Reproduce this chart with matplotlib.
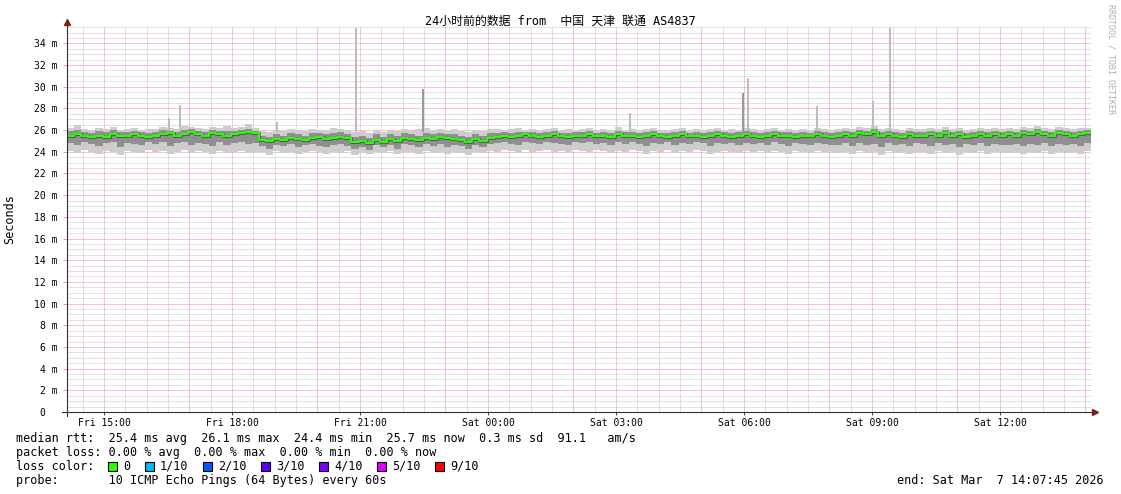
import numpy as np
import matplotlib.pyplot as plt
from matplotlib.patches import Rectangle
from matplotlib.lines import Line2D

W, H = 1121, 494
mono = 'DejaVu Sans Mono'

# hours since Fri 00:00, one value per 10 min over 24 h
t_start = 14 + 7.75 / 60
step_h = 10 / 60

med = [25.5, 25.6, 25.5, 25.4, 25.5, 25.4, 25.6, 25.5, 25.5, 25.6, 25.5, 25.4,
       25.5, 25.6, 25.7, 25.5, 25.6, 25.8, 25.6, 25.5, 25.7, 25.6, 25.5, 25.6,
       25.7, 25.8, 25.7, 25.1, 25.0, 25.2, 25.1, 25.3, 25.2, 25.1, 25.3, 25.4,
       25.2, 25.3, 25.4, 25.3, 24.9, 25.0, 24.8, 25.1, 24.9, 25.2, 25.0, 25.3,
       25.2, 25.1, 25.3, 25.2, 25.4, 25.3, 25.2, 25.1, 24.9, 25.2, 25.0, 25.3,
       25.4, 25.5, 25.4, 25.5, 25.6, 25.5, 25.4, 25.5, 25.6, 25.5, 25.4, 25.5,
       25.5, 25.6, 25.5, 25.5, 25.4, 25.6, 25.5, 25.5, 25.4, 25.5, 25.6, 25.5,
       25.4, 25.5, 25.6, 25.5, 25.5, 25.4, 25.5, 25.6, 25.5, 25.4, 25.5, 25.6,
       25.5, 25.4, 25.5, 25.6, 25.5, 25.5, 25.4, 25.5, 25.5, 25.6, 25.5, 25.4,
       25.5, 25.6, 25.5, 25.7, 25.6, 25.8, 25.5, 25.6, 25.5, 25.4, 25.6, 25.5,
       25.5, 25.6, 25.5, 25.7, 25.5, 25.6, 25.4, 25.5, 25.6, 25.5, 25.6, 25.5,
       25.6, 25.5, 25.7, 25.6, 25.8, 25.6, 25.5, 25.7, 25.6, 25.5, 25.6, 25.7]

hi = [26.2, 26.5, 26.1, 26.0, 26.2, 26.1, 26.3, 26.0, 26.1, 26.2, 26.0, 26.1,
      26.1, 26.3, 26.2, 26.1, 26.4, 26.3, 26.2, 26.1, 26.3, 26.2, 26.4, 26.2,
      26.3, 26.6, 26.2, 25.9, 25.8, 26.0, 25.9, 26.1, 26.0, 25.9, 26.1, 26.0,
      26.0, 26.2, 26.1, 26.0, 25.8, 25.9, 25.7, 26.0, 25.8, 26.0, 25.9, 26.1,
      26.0, 26.1, 26.2, 26.0, 26.1, 26.0, 26.1, 25.9, 25.8, 26.0, 25.9, 26.1,
      26.1, 26.0, 26.1, 26.2, 26.0, 26.1, 26.0, 26.1, 26.2, 26.0, 26.1, 26.0,
      26.1, 26.2, 26.0, 26.1, 26.0, 26.3, 26.0, 26.1, 26.0, 26.1, 26.2, 26.0,
      26.0, 26.1, 26.2, 26.0, 26.1, 26.0, 26.1, 26.2, 26.0, 26.1, 26.0, 26.2,
      26.1, 26.0, 26.1, 26.2, 26.0, 26.1, 26.0, 26.1, 26.0, 26.2, 26.1, 26.0,
      26.1, 26.2, 26.1, 26.3, 26.2, 26.4, 26.1, 26.2, 26.1, 26.0, 26.2, 26.1,
      26.1, 26.2, 26.1, 26.3, 26.1, 26.2, 26.0, 26.1, 26.2, 26.1, 26.2, 26.1,
      26.2, 26.1, 26.3, 26.2, 26.4, 26.2, 26.1, 26.3, 26.2, 26.1, 26.2, 26.2]

lo = [24.1, 23.9, 24.2, 24.0, 23.8, 24.1, 24.0, 23.7, 24.1, 24.0, 23.9, 24.2,
      24.0, 24.1, 23.8, 24.0, 24.2, 23.9, 24.1, 24.0, 23.8, 24.1, 23.9, 24.0,
      24.1, 23.9, 24.0, 24.0, 23.7, 24.1, 23.9, 24.0, 23.8, 24.0, 24.1, 23.9,
      23.8, 24.0, 23.9, 24.1, 23.7, 23.9, 23.8, 24.0, 23.9, 24.1, 23.8, 24.0,
      24.0, 23.8, 24.1, 23.9, 24.0, 23.8, 24.0, 23.9, 23.7, 24.0, 23.9, 24.1,
      24.0, 24.2, 24.1, 23.9, 24.2, 24.0, 24.1, 24.2, 24.0, 24.1, 23.9, 24.2,
      24.1, 24.0, 24.2, 24.1, 23.9, 24.1, 24.0, 24.2, 24.1, 23.8, 24.1, 24.0,
      24.2, 23.9, 24.1, 24.0, 24.2, 24.1, 23.8, 24.0, 24.1, 24.0, 23.9, 24.1,
      24.0, 24.1, 23.9, 24.1, 24.0, 23.8, 24.1, 24.0, 23.9, 24.1, 24.0, 23.9,
      23.9, 24.0, 23.8, 24.1, 23.9, 24.0, 23.7, 24.1, 23.9, 24.0, 23.8, 24.0,
      24.0, 23.8, 24.1, 23.9, 24.0, 23.7, 24.0, 23.9, 24.1, 23.8, 24.0, 23.9,
      23.9, 24.0, 23.8, 24.0, 23.9, 24.1, 23.8, 24.0, 23.9, 24.0, 23.8, 24.1]

mid_lo = [24.8, 24.6, 24.9, 24.7, 24.5, 24.8, 24.9, 24.4, 24.8, 24.7, 24.6, 24.9,
          24.7, 24.9, 24.5, 24.8, 24.9, 24.6, 24.8, 24.7, 24.5, 24.9, 24.6, 24.8,
          24.9, 24.7, 24.8, 24.5, 24.3, 24.6, 24.5, 24.7, 24.4, 24.6, 24.7, 24.5,
          24.4, 24.6, 24.7, 24.5, 24.3, 24.4, 24.2, 24.6, 24.4, 24.6, 24.3, 24.7,
          24.6, 24.4, 24.7, 24.5, 24.7, 24.4, 24.6, 24.5, 24.3, 24.6, 24.4, 24.7,
          24.8, 24.9, 24.7, 24.6, 24.9, 24.8, 24.7, 24.9, 24.8, 24.7, 24.6, 24.9,
          24.8, 24.9, 24.7, 24.8, 24.6, 24.9, 24.7, 24.9, 24.7, 24.5, 24.8, 24.7,
          24.9, 24.6, 24.8, 24.7, 24.9, 24.8, 24.5, 24.8, 24.7, 24.8, 24.6, 24.8,
          24.7, 24.8, 24.6, 24.9, 24.7, 24.5, 24.8, 24.7, 24.6, 24.8, 24.7, 24.6,
          24.6, 24.8, 24.5, 24.8, 24.6, 24.7, 24.4, 24.8, 24.6, 24.7, 24.5, 24.8,
          24.7, 24.5, 24.8, 24.6, 24.7, 24.4, 24.7, 24.6, 24.8, 24.5, 24.7, 24.6,
          24.6, 24.7, 24.5, 24.7, 24.6, 24.8, 24.5, 24.7, 24.6, 24.7, 24.5, 24.8]

mid_hi = [25.9, 26.0, 25.8, 25.7, 25.9, 25.8, 26.0, 25.8, 25.8, 25.9, 25.8, 25.7,
          25.8, 26.0, 25.9, 25.8, 26.0, 26.1, 25.9, 25.8, 26.0, 25.9, 25.9, 25.9,
          26.0, 26.1, 25.9, 25.5, 25.4, 25.6, 25.5, 25.7, 25.6, 25.5, 25.7, 25.7,
          25.6, 25.7, 25.8, 25.6, 25.4, 25.5, 25.3, 25.6, 25.4, 25.6, 25.5, 25.7,
          25.6, 25.5, 25.7, 25.6, 25.7, 25.6, 25.6, 25.5, 25.4, 25.6, 25.5, 25.7,
          25.7, 25.8, 25.7, 25.8, 25.8, 25.8, 25.7, 25.8, 25.9, 25.7, 25.7, 25.8,
          25.8, 25.9, 25.7, 25.8, 25.7, 25.9, 25.8, 25.8, 25.7, 25.8, 25.9, 25.7,
          25.7, 25.8, 25.9, 25.7, 25.8, 25.7, 25.8, 25.9, 25.8, 25.7, 25.8, 25.9,
          25.8, 25.7, 25.8, 25.9, 25.8, 25.8, 25.7, 25.8, 25.7, 25.9, 25.8, 25.7,
          25.8, 25.9, 25.8, 26.0, 25.9, 26.1, 25.8, 25.9, 25.8, 25.7, 25.9, 25.8,
          25.8, 25.9, 25.8, 26.0, 25.8, 25.9, 25.7, 25.8, 25.9, 25.8, 25.9, 25.8,
          25.9, 25.8, 26.0, 25.9, 26.1, 25.9, 25.8, 26.0, 25.9, 25.8, 25.9, 26.0]

# single high pings (hours, value in ms), and how many pings were that high
spike_t = [16.52, 16.78, 19.06, 20.91, 22.47, 27.33, 29.97, 30.10, 31.70, 33.03, 33.41]
spike_top = [27.1, 28.3, 26.7, 35.4, 29.8, 27.6, 29.4, 30.8, 28.2, 28.7, 35.4]
spike_n = [1, 1, 1, 1, 2, 1, 2, 1, 1, 1, 1]

xtick_h = [15, 18, 21, 24, 27, 30, 33, 36]
xtick_lab = ['Fri 15:00', 'Fri 18:00', 'Fri 21:00', 'Sat 00:00',
             'Sat 03:00', 'Sat 06:00', 'Sat 09:00', 'Sat 12:00']
red_h = [15, 17, 18, 20, 21, 23, 24, 26, 27, 29, 30, 32, 33, 35, 36, 38]

loss_lab = ['0', '1/10', '2/10', '3/10', '4/10', '5/10', '9/10']
loss_col = ['#26ff00', '#00b8ff', '#0059ff', '#5e00ff', '#7e00ff', '#dd00ff', '#ff0000']

title = '24小时前的数据 from  中国 天津 联通 AS4837'
legend_lines = [
    'median rtt:  25.4 ms avg  26.1 ms max  24.4 ms min  25.7 ms now  0.3 ms sd  91.1   am/s',
    'packet loss: 0.00 % avg  0.00 % max  0.00 % min  0.00 % now',
    'loss color:',
    'probe:       10 ICMP Echo Pings (64 Bytes) every 60s',
]
end_text = 'end: Sat Mar  7 14:07:45 2026'


def fx(x):
    return x / W


def fy(y):
    return 1 - y / H


fig = plt.figure(figsize=(W / 100, H / 100), dpi=100)
fig.patch.set_facecolor('white')
# axes box on whole pixels so the dotted grid lands on the pixel grid
ax = fig.add_axes([fx(67), fy(412), 1024 / W, 386 / H])
ax.set_xlim(t_start, t_start + 24)
ax.set_ylim(0, 35.6)
for s in ax.spines.values():
    s.set_visible(False)

# grid, 1px on / 1px off
dot = (0, (1, 1))
for h in np.arange(14.5, 38.2, 0.5):
    c = '#f09090' if h in red_h else '#c4c4c4'
    ax.axvline(h, color=c, lw=0.72, ls=dot, zorder=0)
for v in np.arange(0.5, 35.6, 0.5):
    c = '#f09090' if v % 2 == 0 else '#c4c4c4'
    ax.axhline(v, color=c, lw=0.72, ls=dot, zorder=0)

# smoke
edges = t_start + step_h * np.arange(len(med) + 1)
ext = lambda a: np.r_[a, a[-1]]
ax.fill_between(edges, ext(lo), ext(hi), step='post', color='#cdcdcd', lw=0, zorder=2)
ax.fill_between(edges, ext(mid_lo), ext(mid_hi), step='post', color='#8f8f8f', lw=0, zorder=3)
for t, top, n in zip(spike_t, spike_top, spike_n):
    ax.vlines(t, 25.8, top, color='#bdbdbd' if n == 1 else '#9a9a9a', lw=1.5, zorder=2)

# median, coloured by loss (all 0 here)
ax.step(edges, ext(med), where='post', color='#202020', lw=2.2, alpha=0.5, zorder=4)
ax.step(edges, ext(med), where='post', color=loss_col[0], lw=1.5, zorder=5)

# ticks
ax.set_yticks(np.arange(0, 35, 2))
ax.set_yticklabels(['0  '] + [f'{v} m' for v in range(2, 35, 2)])
ax.set_xticks(xtick_h, xtick_lab)
ax.tick_params(axis='y', length=3, width=0.7, color='#e0a0a0', pad=4)
ax.tick_params(axis='x', length=2, width=0.7, color='#404040', pad=2)
for lab in ax.get_xticklabels() + ax.get_yticklabels():
    lab.set_family(mono)
    lab.set_fontsize(7)

# axis lines and arrows
fig.add_artist(Line2D([fx(67), fx(67)], [fy(416), fy(24)], color='#303030', lw=0.8))
fig.add_artist(Line2D([fx(62), fx(1093)], [fy(412), fy(412)], color='#303030', lw=0.8))
fig.add_artist(Line2D([fx(67)], [fy(22.5)], marker='^', ms=5, color='#7f1f1f', lw=0))
fig.add_artist(Line2D([fx(1095)], [fy(412)], marker='>', ms=5, color='#7f1f1f', lw=0))

# texts
fig.text(fx(560), fy(21), title, ha='center', va='center', size=8.6,
         family=[mono, 'Noto Sans CJK SC'])
fig.text(fx(10), fy(219), 'Seconds', rotation=90, ha='center', va='center',
         size=8.5, family=mono)
fig.text(fx(1111), fy(4), 'RRDTOOL / TOBI OETIKER', rotation=270, ha='center', va='top',
         size=6, family=mono, color='#b0b0b0')

for i, line in enumerate(legend_lines):
    fig.text(fx(16), fy(438 + 14 * i), line, va='center', size=8.5, family=mono)
fig.text(fx(1104), fy(480), end_text, ha='right', va='center', size=8.5, family=mono)

box_x = [108, 145, 203, 261, 319, 377, 435]
for bx, lab, c in zip(box_x, loss_lab, loss_col):
    fig.add_artist(Rectangle((fx(bx), fy(470.5)), 9 / W, 9 / H, facecolor=c,
                             edgecolor='black', lw=0.8))
    fig.text(fx(bx + 15), fy(466), lab, va='center', size=8.5, family=mono)

fig.savefig('out.png', dpi=100)
